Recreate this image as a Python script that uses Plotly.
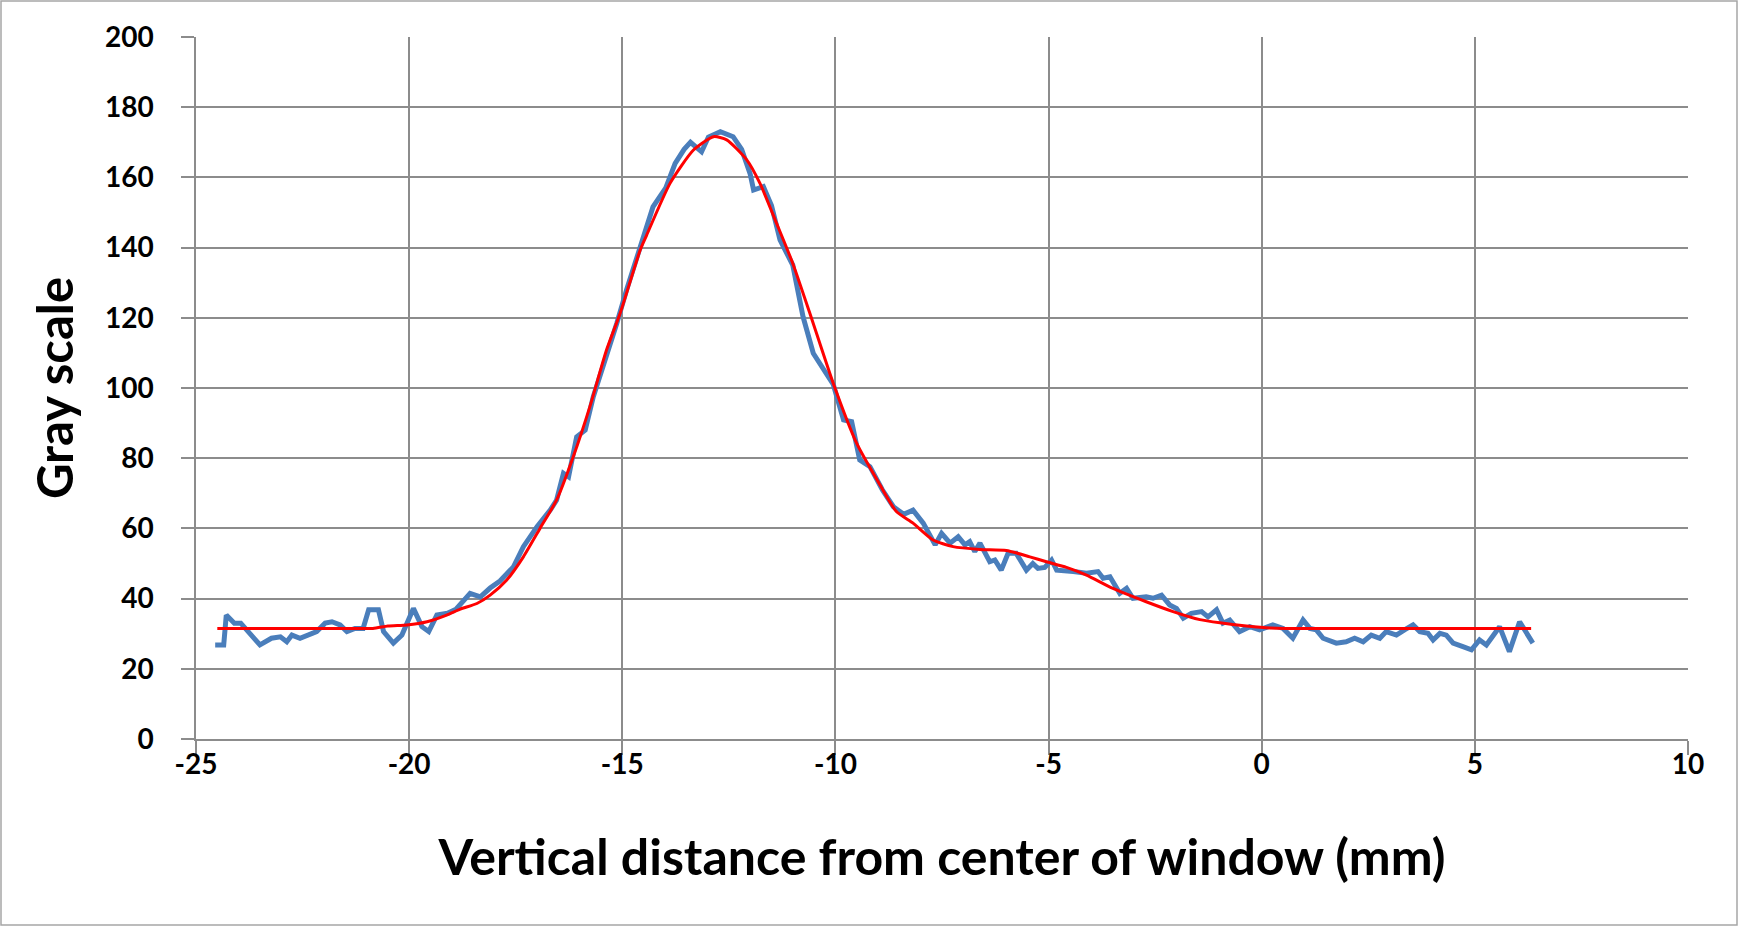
import plotly.graph_objects as go

# Measured profile (blue)
meas_x = [-24.55, -24.35, -24.29, -24.1, -23.95, -23.5, -23.23, -23.02, -22.87, -22.75,
          -22.56, -22.4, -22.17, -21.97, -21.81, -21.62, -21.46, -21.27, -21.08, -20.95,
          -20.72, -20.6, -20.37, -20.17, -19.9, -19.7, -19.54, -19.35, -19.1, -18.9,
          -18.57, -18.33, -18.1, -17.87, -17.55, -17.32, -17.0, -16.69, -16.54, -16.38,
          -16.26, -16.07, -15.87, -15.68, -15.45, -15.37, -15.13, -14.9, -14.58, -14.28,
          -13.98, -13.76, -13.55, -13.4, -13.14, -12.98, -12.7, -12.4, -12.2, -12.0,
          -11.92, -11.69, -11.5, -11.3, -11.0, -10.76, -10.52, -10.2, -10.05, -9.81,
          -9.62, -9.43, -9.19, -8.9, -8.64, -8.4, -8.18, -7.94, -7.66, -7.51,
          -7.31, -7.12, -6.96, -6.85, -6.73, -6.61, -6.38, -6.26, -6.11, -5.95,
          -5.76, -5.52, -5.37, -5.25, -5.09, -4.93, -4.81, -4.42, -4.11, -3.84,
          -3.72, -3.56, -3.33, -3.17, -3.02, -2.71, -2.55, -2.35, -2.16, -2.0,
          -1.84, -1.65, -1.41, -1.26, -1.06, -0.91, -0.75, -0.52, -0.28, -0.05,
          0.26, 0.5, 0.73, 0.97, 1.13, 1.28, 1.44, 1.75, 1.98, 2.18,
          2.38, 2.57, 2.77, 2.92, 3.16, 3.35, 3.55, 3.71, 3.9, 4.02,
          4.18, 4.33, 4.49, 4.72, 4.92, 5.11, 5.27, 5.58, 5.81, 6.05,
          6.2, 6.36]
meas_y = [26.8, 26.8, 35.3, 33.0, 33.0, 26.8, 28.7, 29.1, 27.7, 29.6,
          28.7, 29.6, 30.6, 33.0, 33.4, 32.5, 30.6, 31.5, 31.5, 36.8,
          36.8, 30.6, 27.3, 29.6, 37.2, 32.0, 30.6, 35.3, 35.8, 37.0,
          41.5, 40.5, 43.0, 45.0, 49.1, 54.8, 60.5, 65.2, 68.1, 75.7,
          74.7, 86.1, 88.0, 97.5, 106.0, 110.0, 118.4, 127.9, 140.3, 151.6,
          157.0, 164.0, 168.0, 170.0, 167.3, 171.5, 173.0, 171.6, 168.0, 161.0,
          156.4, 157.4, 152.0, 142.2, 135.0, 120.3, 109.9, 104.2, 101.0, 90.9,
          90.4, 79.5, 77.6, 71.0, 66.2, 64.0, 65.2, 61.5, 55.3, 58.6,
          55.8, 57.6, 55.3, 56.2, 53.4, 55.8, 50.5, 51.0, 48.1, 52.9,
          52.9, 48.1, 50.0, 48.6, 48.9, 51.0, 48.1, 47.7, 47.2, 47.7,
          45.8, 46.2, 41.5, 42.9, 40.1, 40.5, 40.1, 41.0, 38.2, 37.2,
          34.4, 35.8, 36.3, 34.8, 36.8, 33.0, 33.9, 30.6, 32.0, 31.1,
          32.5, 31.5, 28.7, 33.9, 31.5, 31.1, 28.7, 27.3, 27.7, 28.7,
          27.7, 29.6, 28.7, 30.6, 29.6, 31.1, 32.5, 30.6, 30.1, 28.2,
          30.1, 29.6, 27.3, 26.3, 25.4, 28.2, 26.8, 32.0, 24.9, 33.4,
          30.6, 27.3]

# Fitted curve (red)
fit_x = [-24.5, -23.0, -21.5, -20.85, -20.5, -20.05, -19.58, -19.12, -18.8, -18.41,
         -18.1, -17.71, -17.32, -16.93, -16.54, -16.15, -15.76, -15.37, -15.05, -14.58,
         -14.43, -13.88, -13.33, -12.86, -12.55, -12.08, -11.77, -11.38, -11.0, -10.6,
         -10.05, -9.5, -8.96, -8.57, -8.18, -7.71, -7.24, -6.61, -5.99, -5.44,
         -5.05, -4.58, -4.11, -3.49, -2.71, -2.08, -1.45, -0.98, -0.36, 0.2,
         0.58, 2.0, 4.0, 6.32]
fit_y = [31.5, 31.5, 31.5, 31.5, 32.2, 32.5, 33.4, 35.3, 37.0, 38.6,
         41.0, 45.3, 51.9, 60.0, 68.1, 80.4, 94.7, 110.8, 121.3, 139.3,
         143.5, 158.3, 167.8, 171.6, 170.7, 165.0, 158.3, 146.9, 135.5, 121.3,
         101.3, 84.2, 72.5, 64.8, 61.5, 56.7, 54.8, 54.0, 53.7, 51.9,
         50.5, 48.9, 46.7, 42.9, 39.1, 36.3, 34.0, 33.1, 32.2, 31.6,
         31.5, 31.5, 31.5, 31.5]

x_ticks = [-25, -20, -15, -10, -5, 0, 5, 10]
y_ticks = [0, 20, 40, 60, 80, 100, 120, 140, 160, 180, 200]

GRID = "#8c8c8c"
FONT = "Lato"

fig = go.Figure()
fig.add_trace(go.Scatter(x=meas_x, y=meas_y, mode="lines",
                         line=dict(color="#4A7EBB", width=5), showlegend=False))
fig.add_trace(go.Scatter(x=fit_x, y=fit_y, mode="lines",
                         line=dict(color="#FF0000", width=3, shape="spline", smoothing=0.6),
                         showlegend=False))

W, H = 1739, 927
ml, mr, mt, mb = 196, 51, 37, 188
pw, ph = W - ml - mr, H - mt - mb

fig.update_layout(
    width=W, height=H,
    margin=dict(l=ml, r=mr, t=mt, b=mb, autoexpand=False),
    plot_bgcolor="white", paper_bgcolor="white",
    font=dict(family=FONT, color="black"),
    xaxis=dict(range=[-25, 10], tickvals=x_ticks, ticktext=[str(v) for v in x_ticks],
               showgrid=True, gridcolor=GRID, gridwidth=1.5,
               showline=True, linecolor=GRID, linewidth=1.5, zeroline=False,
               ticks="outside", ticklen=14, tickcolor=GRID, tickwidth=1.5,
               tickfont=dict(size=28, family=FONT, weight="bold"),
               ticklabelstandoff=-14,
               title=dict(text="Vertical distance from center of window (mm)",
                          font=dict(size=50, family=FONT, weight="bold"), standoff=61),
               automargin=False),
    yaxis=dict(range=[0, 200], tickvals=y_ticks, showgrid=True, gridcolor=GRID, gridwidth=1.5,
               showline=True, linecolor=GRID, linewidth=1.5, zeroline=False,
               ticks="outside", ticklen=13, tickcolor=GRID, tickwidth=1.5,
               tickfont=dict(size=28, family=FONT, weight="bold"),
               ticklabelstandoff=22,
               title=dict(text="Gray scale",
                          font=dict(size=49, family=FONT, weight="bold"), standoff=16),
               automargin=False),
)

fig.add_shape(type="rect", xref="paper", yref="paper",
              x0=(1 - ml) / pw, x1=(W - 2 - ml) / pw,
              y0=(mt + ph - (H - 2)) / ph, y1=(mt + ph - 1) / ph,
              line=dict(color="#a6a6a6", width=1.5), fillcolor="rgba(0,0,0,0)", layer="below")

fig.write_html("out.html", config={"displayModeBar": False},
               post_script="document.body.style.margin='0';document.body.style.overflow='hidden';")
